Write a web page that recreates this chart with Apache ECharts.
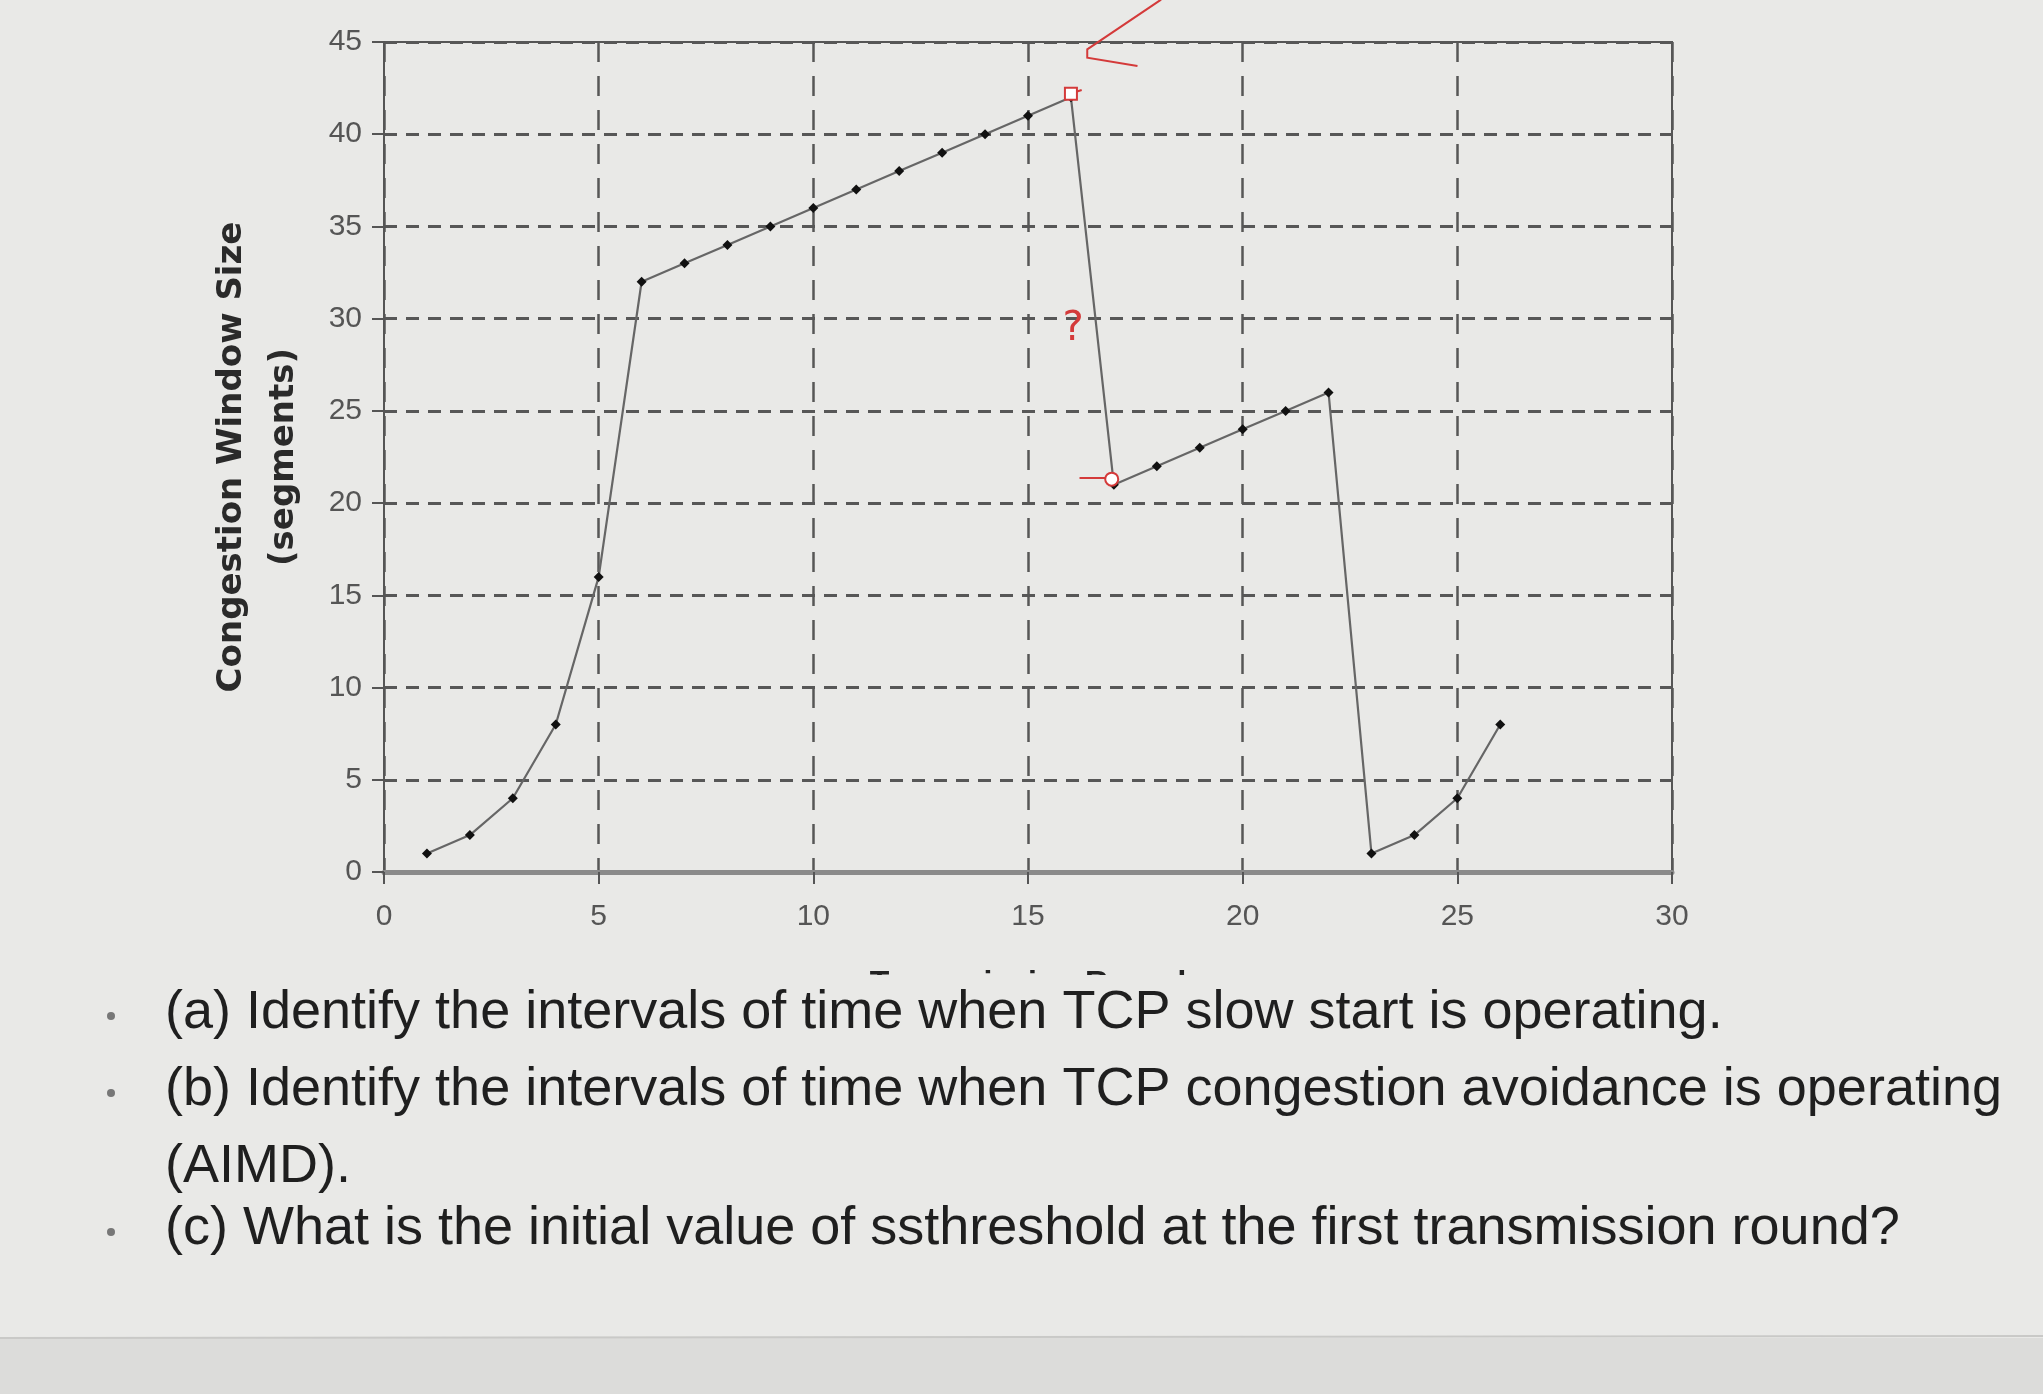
<!DOCTYPE html>
<html><head><meta charset="utf-8">
<script src="https://cdn.jsdelivr.net/npm/echarts@6/dist/echarts.min.js"></script>
<style>html,body{margin:0;padding:0;background:#e9e9e7}#c{width:2043px;height:1394px}</style>
</head><body><div id="c"></div>
<script>
const rounds = [1,2,3,4,5,6,7,8,9,10,11,12,13,14,15,16,17,18,19,20,21,22,23,24,25,26];
const cwnd   = [1,2,4,8,16,32,33,34,35,36,37,38,39,40,41,42,21,22,23,24,25,26,1,2,4,8];
const xAxisTitle = 'Transmission Round';
const yAxisTitle = 'Congestion Window Size\n(segments)';
const questions = [
  '(a) Identify the intervals of time when TCP slow start is operating.',
  '(b) Identify the intervals of time when TCP congestion avoidance is operating',
  '(AIMD).',
  '(c) What is the initial value of ssthreshold at the first transmission round?'
];
const bulletRows = [0, 1, 3];
// hand-drawn red arrow annotation, in data coordinates
const arrowPts = [[18.1,47.3],[16.38,44.6],[16.38,44.15],[17.55,43.7]];

const chart = echarts.init(document.getElementById('c'), null, {renderer:'canvas'});
const gridCol = '#575757';
const textMid = [1016, 1093, 1170, 1232];
const graphics = [
  {type:'rect', z:100, shape:{x:0, y:975, width:2043, height:419}, style:{fill:'#e9e9e7'}},
  {type:'rect', z:101, shape:{x:0, y:1338, width:2043, height:56}, style:{fill:'#dcdcda'}},
  {type:'line', z:102, shape:{x1:0, y1:1338, x2:2043, y2:1336}, style:{stroke:'#c9c9c7', lineWidth:2}}
];
questions.forEach((q,i)=>{
  graphics.push({type:'text', z:110, left:165, top:textMid[i]-30,
    style:{text:q, font:'54px "Liberation Sans", Arial, sans-serif', fill:'#1f1f1f'}});
});
bulletRows.forEach(i=>{
  graphics.push({type:'circle', z:110, shape:{cx:111, cy:textMid[i], r:4}, style:{fill:'#777'}});
});

chart.setOption({
  backgroundColor:'#e9e9e7',
  animation:false,
  grid:{left:384, right:371, top:42, bottom:522, show:true, borderColor:'#555', borderWidth:2, backgroundColor:'transparent'},
  xAxis:{type:'value', min:0, max:30, interval:5,
    name:xAxisTitle, nameLocation:'middle', nameGap:96,
    nameTextStyle:{fontSize:32, fontWeight:'bold', color:'#222', fontFamily:'Liberation Sans'},
    axisLine:{show:true, onZero:false, lineStyle:{color:'#8a8a8a', width:5}},
    axisTick:{show:true, length:12, lineStyle:{color:'#555', width:2}},
    axisLabel:{fontSize:30, color:'#555', margin:30, fontFamily:'Liberation Sans'},
    splitLine:{show:true, lineStyle:{color:gridCol, width:2.5, type:[20,14]}}
  },
  yAxis:{type:'value', min:0, max:45, interval:5,
    name:yAxisTitle, nameLocation:'middle', nameGap:74, nameRotate:90,
    nameTextStyle:{fontSize:34, fontWeight:'bold', color:'#2a2a2a', lineHeight:52, fontFamily:'DejaVu Sans'},
    axisLine:{show:true, lineStyle:{color:'#555', width:2}},
    axisTick:{show:true, length:12, lineStyle:{color:'#555', width:2}},
    axisLabel:{fontSize:30, color:'#555', margin:22, fontFamily:'Liberation Sans'},
    splitLine:{show:true, lineStyle:{color:gridCol, width:3, type:[13,9]}}
  },
  graphic:graphics,
  series:[{
    type:'line',
    clip:false,
    data:rounds.map((r,i)=>[r,cwnd[i]]),
    symbol:'diamond', symbolSize:10,
    lineStyle:{color:'#666', width:2.2},
    itemStyle:{color:'#111'},
    markPoint:{silent:true, symbolSize:16, data:[
      {coord:[16,42.2], symbol:'emptyRect', symbolSize:12, itemStyle:{color:'#d43a3a', borderColor:'#d43a3a', borderWidth:2}},
      {coord:[16.95,21.3], symbol:'emptyCircle', symbolSize:13, itemStyle:{color:'#d43a3a', borderColor:'#d43a3a', borderWidth:2}},
      {coord:[16.05,29.4], symbol:'circle', symbolSize:1, itemStyle:{color:'rgba(0,0,0,0)'},
        label:{show:true, position:'inside', formatter:'?', fontSize:40, color:'#d43a3a', fontFamily:'DejaVu Sans'}}
    ], label:{show:false}},
    markLine:{silent:true, symbol:['none','none'], label:{show:false},
      lineStyle:{color:'#d43a3a', width:2, type:'solid'},
      data:[
        [{coord:[16.2,21.4]},{coord:[16.8,21.4]}],
        [{coord:[15.85,42.1]},{coord:[16.25,42.4]}]
      ]}
  }]
});
const arrowPx = arrowPts.map(p => chart.convertToPixel({gridIndex:0}, p));
chart.setOption({graphic: graphics.concat([{type:'polyline', z:50, shape:{points:arrowPx},
  style:{stroke:'#d43a3a', lineWidth:2, fill:null}}])});
</script></body></html>
